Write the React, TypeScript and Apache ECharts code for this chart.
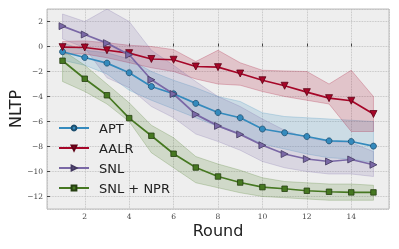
import React, { useEffect, useRef } from "react";
import * as echarts from "echarts";

const ROUNDS = [1, 2, 3, 4, 5, 6, 7, 8, 9, 10, 11, 12, 13, 14, 15];

const APT = [-0.42, -0.88, -1.33, -2.1, -3.2, -3.78, -4.55, -5.28, -5.7, -6.6, -6.9, -7.2, -7.55, -7.6, -7.97];
const APT_HI = [0.3, -0.3, -0.5, -1.0, -2.0, -2.7, -3.3, -4.0, -4.4, -5.3, -5.6, -5.7, -5.8, -5.9, -6.0];
const APT_LO = [-1.1, -1.5, -2.2, -3.5, -4.3, -5.0, -5.7, -6.4, -7.0, -7.8, -8.2, -8.6, -8.9, -9.0, -9.3];

const AALR = [-0.05, -0.08, -0.3, -0.53, -1.0, -1.06, -1.6, -1.65, -2.16, -2.7, -3.14, -3.65, -4.13, -4.34, -5.4];
const AALR_HI = [0.4, 0.45, 0.3, 0.1, 0.0, -0.25, -1.2, -0.3, -1.3, -1.9, -1.95, -2.0, -3.0, -1.9, -4.0];
const AALR_LO = [-0.6, -0.6, -0.9, -1.3, -1.7, -2.0, -2.6, -3.0, -3.1, -3.6, -4.0, -4.3, -4.6, -6.8, -6.8];

const SNL = [1.63, 0.96, 0.27, -0.66, -2.66, -3.8, -5.43, -6.35, -7.03, -7.9, -8.6, -9.0, -9.2, -9.04, -9.46];
const SNL_HI = [2.6, 2.0, 3.0, 2.0, -0.3, -1.5, -2.8, -4.0, -4.8, -5.8, -6.7, -7.3, -7.6, -7.7, -8.4];
const SNL_LO = [0.6, -0.1, -2.5, -3.3, -4.8, -5.7, -7.0, -7.6, -8.3, -9.2, -9.7, -10.0, -10.2, -10.2, -10.4];

const NPR = [-1.14, -2.58, -3.9, -5.73, -7.14, -8.58, -9.68, -10.4, -10.88, -11.25, -11.38, -11.54, -11.62, -11.67, -11.67];
const NPR_HI = [-0.3, -1.5, -3.0, -4.5, -6.3, -7.3, -8.8, -9.4, -9.9, -10.5, -10.8, -10.9, -11.0, -11.0, -11.1];
const NPR_LO = [-2.8, -3.6, -4.6, -6.0, -8.5, -9.7, -10.9, -11.3, -11.7, -12.0, -12.1, -12.2, -12.3, -12.3, -12.3];

const NAMES = ["APT", "AALR", "SNL", "SNL + NPR"];

const fmt = (v: number) =>
  Math.abs(v % 2) < 1e-9 ? String(Math.round(v)).replace("-", "\u2212") : "";

function hexA(hex: string, a: number) {
  const r = parseInt(hex.slice(1, 3), 16);
  const g = parseInt(hex.slice(3, 5), 16);
  const b = parseInt(hex.slice(5, 7), 16);
  return `rgba(${r},${g},${b},${a})`;
}

function band(name: string, lo: number[], hi: number[], color: string) {
  return {
    type: "custom",
    name: name + " band",
    silent: true,
    clip: true,
    z: 1,
    data: [[ROUNDS[0], lo[0]]],
    renderItem: (_p: any, api: any) => {
      const pts: number[][] = [];
      for (let i = 0; i < ROUNDS.length; i++) pts.push(api.coord([ROUNDS[i], hi[i]]));
      for (let i = ROUNDS.length - 1; i >= 0; i--) pts.push(api.coord([ROUNDS[i], lo[i]]));
      return {
        type: "polygon",
        shape: { points: pts },
        style: { fill: hexA(color, 0.18), stroke: hexA(color, 0.3), lineWidth: 0.8 },
      };
    },
  };
}

function line(name: string, vals: number[], color: string, edge: string, symbol: string, size: number, rotate: number) {
  return {
    type: "line",
    name,
    z: 3,
    data: ROUNDS.map((r, i) => [r, vals[i]]),
    symbol,
    symbolSize: size,
    symbolRotate: rotate,
    showAllSymbol: true,
    lineStyle: { color, width: 1.7 },
    itemStyle: { color, borderColor: edge, borderWidth: 0.8 },
  };
}

export default function App() {
  const ref = useRef<HTMLDivElement>(null);
  useEffect(() => {
    if (!ref.current) return;
    const chart = echarts.init(ref.current, undefined, { renderer: "svg" });
    const BLUE = "#348ABD", RED = "#A60628", PURPLE = "#7A68A6", GREEN = "#467821";
    chart.setOption({
      animation: false,
      grid: {
        left: 47, top: 9, width: 342, height: 200,
        show: true, backgroundColor: "#eeeeee", borderColor: "#bcbcbc", borderWidth: 1,
      },
      xAxis: {
        type: "value", min: 0.3, max: 15.7, splitNumber: 7, minInterval: 2, maxInterval: 2,
        axisLine: { show: false },
        axisTick: { show: true, inside: true, length: 3, lineStyle: { color: "#444", width: 1 } },
        axisLabel: { formatter: fmt, margin: 3, fontFamily: "DejaVu Serif", fontSize: 7.5, color: "#444", showMinLabel: false, showMaxLabel: false },
        splitLine: { show: true, lineStyle: { color: "#b8b8b8", type: "dotted", width: 0.8 } },
      },
      yAxis: {
        type: "value", min: -13, max: 3, splitNumber: 8, minInterval: 2, maxInterval: 2,
        axisLine: { show: false },
        axisTick: { show: true, inside: true, length: 3, lineStyle: { color: "#444", width: 1 } },
        axisLabel: { formatter: fmt, margin: 4, fontFamily: "DejaVu Serif", fontSize: 7.5, color: "#444", showMinLabel: false, showMaxLabel: false },
        splitLine: { show: true, lineStyle: { color: "#b8b8b8", type: "dotted", width: 0.8 } },
      },
      legend: {
        data: NAMES,
        orient: "vertical",
        left: 58, top: 118, padding: 0,
        itemWidth: 30, itemHeight: 6, itemGap: 0,
        textStyle: { fontFamily: "DejaVu Sans", fontSize: 13, color: "#222", lineHeight: 20, padding: [0, 0, 0, 5] },
      },
      graphic: [
        { type: "text", x: 15.5, y: 109, rotation: Math.PI / 2, style: { text: "NLTP", fontFamily: "DejaVu Sans", fontSize: 16, fill: "#222", align: "center", verticalAlign: "middle" } },
        { type: "text", x: 218, y: 230.5, style: { text: "Round", fontFamily: "DejaVu Sans", fontSize: 16, fill: "#222", align: "center", verticalAlign: "middle" } },
      ],
      series: [
        band("APT", APT_LO, APT_HI, BLUE),
        band("AALR", AALR_LO, AALR_HI, RED),
        band("SNL", SNL_LO, SNL_HI, PURPLE),
        band("SNL + NPR", NPR_LO, NPR_HI, GREEN),
        line("APT", APT, BLUE, "#1d4e6e", "circle", 6, 0),
        line("AALR", AALR, RED, "#5e0316", "triangle", 7, 180),
        line("SNL", SNL, PURPLE, "#433960", "triangle", 7, -90),
        line("SNL + NPR", NPR, GREEN, "#263f12", "rect", 5.5, 0),
      ],
    });
    return () => chart.dispose();
  }, []);
  return <div ref={ref} style={{ position: "fixed", left: 0, top: 0, width: 399, height: 249 }} />;
}
